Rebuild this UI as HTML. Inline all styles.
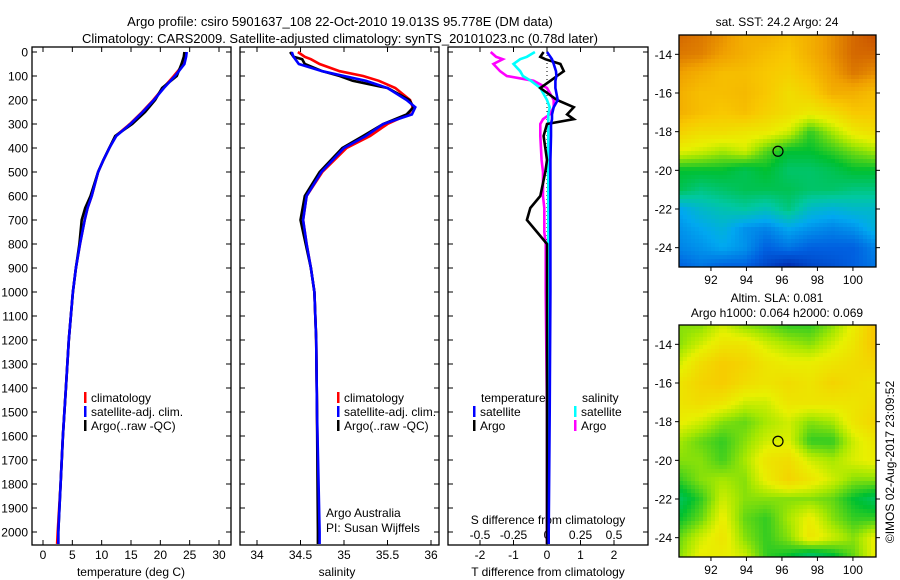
<!DOCTYPE html>
<html><head><meta charset="utf-8"><style>
html,body{margin:0;padding:0;background:#fff}
svg{display:block;font-family:"Liberation Sans",sans-serif}
text{fill:#000}
</style></head><body>
<svg id="fig" width="900" height="580" viewBox="0 0 900 580">
<text x="340" y="26" font-size="13" text-anchor="middle">Argo profile: csiro 5901637_108 22-Oct-2010 19.013S 95.778E (DM data)</text>
<text x="340" y="43" font-size="13" text-anchor="middle">Climatology: CARS2009. Satellite-adjusted climatology: synTS_20101023.nc (0.78d later)</text>
<g id="g"></g>
</svg>
<script>
// ---- data ----
const depthT = [0,20,50,100,150,200,250,300,350,400,450,500,600,650,700,800,900,1000,1200,1400,1600,1800,2000,2050];
const tempClim = [24.3,24.3,24.0,22.3,20.5,18.8,16.9,14.8,12.4,11.3,10.3,9.4,8.3,7.6,7.1,6.3,5.6,5.1,4.4,3.9,3.4,3.0,2.5,2.4];
const tempSat  = [24.5,24.4,24.1,22.5,20.6,18.9,17.0,14.9,12.5,11.3,10.3,9.4,8.3,7.6,7.1,6.3,5.6,5.1,4.4,3.9,3.4,3.0,2.6,2.6];
const tempArgo = [24.1,24.0,23.6,22.8,20.3,19.1,17.4,15.2,12.3,11.3,10.3,9.4,8.1,7.2,6.6,6.2,5.6,5.1,4.4,3.9,3.4,3.0,2.6,2.6];
const depthS = [0,20,30,50,80,100,120,150,200,230,260,300,350,400,500,600,700,800,900,1000,1200,1500,2000,2050];
const salClim = [34.47,34.55,34.62,34.72,34.95,35.22,35.4,35.59,35.76,35.79,35.74,35.5,35.3,35.03,34.75,34.57,34.53,34.57,34.62,34.66,34.68,34.69,34.71,34.71];
const salSat  = [34.4,34.42,34.44,34.48,34.75,35.0,35.25,35.5,35.72,35.82,35.78,35.45,35.25,35.0,34.74,34.57,34.53,34.57,34.62,34.66,34.68,34.69,34.72,34.72];
const salArgo = [34.38,34.42,34.52,34.55,34.75,34.95,35.1,35.5,35.75,35.8,35.72,35.45,35.22,34.98,34.72,34.55,34.5,34.56,34.62,34.66,34.68,34.69,34.7,34.7];
const depthD = [0,20,30,50,80,100,120,150,200,230,260,280,300,350,450,500,600,650,700,750,800,1000,1500,2000,2050];
const tdiffSat  = [0.0,0.1,0.15,0.2,0.27,0.28,0.25,0.25,0.32,0.2,0.15,0.15,0.12,0.12,0.1,0.1,0.1,0.1,0.1,0.1,0.1,0.1,0.08,0.05,0.05];
const tdiffArgo = [-0.1,-0.2,-0.05,0.4,0.5,0.3,0.1,-0.2,0.3,0.8,0.6,0.8,0.0,-0.1,0.0,-0.05,-0.2,-0.5,-0.6,-0.3,0.0,0.0,0.0,0.0,0.0];
const sdiffSat  = [-0.09,-0.15,-0.2,-0.25,-0.2,-0.18,-0.12,-0.05,0.0,0.02,0.01,0.01,0.01,0.01,0.01,0.01,0.01,0.01,0.01,0.01,0.01,0.01,0.01,0.01,0.01];
const sdiffArgo = [-0.42,-0.38,-0.33,-0.4,-0.35,-0.3,-0.1,0.0,0.05,0.05,0.02,-0.03,-0.05,-0.05,-0.04,-0.03,-0.03,-0.02,-0.02,-0.02,-0.01,-0.01,0.0,0.0,0.0];
const depthTicks = [0,100,200,300,400,500,600,700,800,900,1000,1100,1200,1300,1400,1500,1600,1700,1800,1900,2000];
const tempTicks = [0,5,10,15,20,25,30];
const salTicks = [34,34.5,35,35.5,36];
const tdTicks = [-2,-1,0,1,2];
const sdTicks = [-0.5,-0.25,0,0.25,0.5];
const lonTicks = [92,94,96,98,100];
const latTicks = [-14,-16,-18,-20,-22,-24];
const sstGrid = [
[0.85,0.83,0.8,0.75,0.75,0.72,0.75,0.8,0.85,0.88],
[0.83,0.82,0.78,0.75,0.72,0.7,0.75,0.8,0.85,0.85],
[0.78,0.75,0.72,0.72,0.7,0.68,0.72,0.78,0.83,0.8],
[0.75,0.72,0.72,0.73,0.7,0.65,0.68,0.75,0.75,0.72],
[0.75,0.72,0.7,0.72,0.68,0.65,0.62,0.65,0.7,0.7],
[0.68,0.65,0.65,0.63,0.62,0.58,0.48,0.55,0.62,0.65],
[0.6,0.58,0.55,0.58,0.5,0.45,0.45,0.48,0.52,0.55],
[0.45,0.45,0.45,0.42,0.45,0.4,0.4,0.42,0.45,0.45],
[0.42,0.38,0.4,0.42,0.42,0.42,0.4,0.4,0.38,0.38],
[0.25,0.3,0.33,0.35,0.32,0.38,0.3,0.28,0.3,0.3],
[0.22,0.25,0.28,0.22,0.2,0.25,0.22,0.2,0.22,0.28],
[0.2,0.22,0.25,0.22,0.15,0.18,0.15,0.15,0.15,0.2],
[0.15,0.18,0.15,0.15,0.1,0.05,0.1,0.12,0.15,0.18]];
const slaGrid = [
[0.5,0.5,0.55,0.5,0.48,0.45,0.45,0.5,0.58,0.68],
[0.5,0.55,0.6,0.6,0.55,0.52,0.5,0.55,0.6,0.68],
[0.55,0.62,0.66,0.64,0.6,0.58,0.58,0.6,0.62,0.64],
[0.6,0.64,0.66,0.62,0.6,0.62,0.6,0.64,0.62,0.6],
[0.6,0.62,0.6,0.55,0.55,0.6,0.6,0.6,0.6,0.62],
[0.58,0.55,0.5,0.48,0.52,0.55,0.5,0.52,0.6,0.64],
[0.52,0.48,0.45,0.5,0.55,0.56,0.45,0.45,0.55,0.6],
[0.5,0.5,0.46,0.52,0.6,0.62,0.55,0.52,0.56,0.58],
[0.45,0.5,0.52,0.5,0.58,0.64,0.6,0.55,0.5,0.5],
[0.38,0.45,0.55,0.5,0.5,0.5,0.5,0.48,0.42,0.38],
[0.42,0.48,0.58,0.48,0.45,0.52,0.58,0.5,0.45,0.45],
[0.48,0.55,0.6,0.5,0.45,0.5,0.6,0.55,0.5,0.58],
[0.5,0.58,0.58,0.55,0.45,0.42,0.35,0.4,0.48,0.58]];
const floatLon = 95.778, floatLat = -19.013;

// ---- helpers ----
const NS="http://www.w3.org/2000/svg";
const G=document.getElementById('g');
function mk(tag,at,parent){const e=document.createElementNS(NS,tag);for(const k in at)e.setAttribute(k,at[k]);(parent||G).appendChild(e);return e;}
function txt(x,y,s,anchor,size){const e=mk('text',{x:x,y:y,'font-size':size||12,'text-anchor':anchor||'middle'});e.textContent=s;return e;}
const Y0=52, YTOP=47, YBOT=545, dpx=(532-52)/2000;
const yD=d=>Y0+d*dpx;

function panel(name,x0,x1,sx,xticks){
  const b=mk('rect',{x:x0,y:YTOP,width:x1-x0,height:YBOT-YTOP,fill:'none',stroke:'#000','stroke-width':1.3});
  
  
  depthTicks.forEach(d=>{const y=yD(d);mk('line',{x1:x0,x2:x0+5,y1:y,y2:y,stroke:'#000'});mk('line',{x1:x1-5,x2:x1,y1:y,y2:y,stroke:'#000'});});
  xticks.forEach(v=>{const x=sx(v);mk('line',{x1:x,x2:x,y1:YBOT,y2:YBOT-5,stroke:'#000'});mk('line',{x1:x,x2:x,y1:YTOP,y2:YTOP+5,stroke:'#000'});});
}
function line(name,ys,xs,sx,color){
  const pts=ys.map((d,i)=>sx(xs[i]).toFixed(1)+','+yD(d).toFixed(1)).join(' ');
  const p=mk('polyline',{points:pts,fill:'none',stroke:color,'stroke-width':2.6,'stroke-linejoin':'miter'});
  
  
}
function legendEntry(name,x,y,color,label){
  const g=mk('g',{});
  
  
  if(color)mk('rect',{x:x,y:y-10,width:2.5,height:11,fill:color},g);
  const t=mk('text',{x:x+7,y:y,'font-size':12},g);t.textContent=label;
}

// ---- panel 1: temperature ----
const sxT=v=>43+v*(219-43)/30;
panel('temperature-panel',32,231,sxT,tempTicks);
depthTicks.forEach(d=>{txt(28,yD(d)+4.5,String(d),'end');});
tempTicks.forEach(v=>txt(sxT(v),559,String(v)));
txt(131,576,'temperature (deg C)');
line('temp-climatology',depthT,tempClim,sxT,'#ff0000');
line('temp-argo',depthT,tempArgo,sxT,'#000000');
line('temp-satellite',depthT,tempSat,sxT,'#0000ff');
legendEntry('legend-climatology',84,402,'#ff0000','climatology');
legendEntry('legend-satellite-adj',84,416,'#0000ff','satellite-adj. clim.');
legendEntry('legend-argo',84,430,'#000000','Argo(..raw -QC)');

// ---- panel 2: salinity ----
const sxS=v=>257+(v-34)*87;
panel('salinity-panel',240,439,sxS,salTicks);
salTicks.forEach(v=>txt(sxS(v),559,String(v)));
txt(337,576,'salinity');
line('sal-climatology',depthS,salClim,sxS,'#ff0000');
line('sal-argo',depthS,salArgo,sxS,'#000000');
line('sal-satellite',depthS,salSat,sxS,'#0000ff');
legendEntry('legend2-climatology',337,402,'#ff0000','climatology');
legendEntry('legend2-satellite-adj',337,416,'#0000ff','satellite-adj. clim.');
legendEntry('legend2-argo',337,430,'#000000','Argo(..raw -QC)');
txt(326,517,'Argo Australia','start');
txt(326,532,'PI: Susan Wijffels','start');

// ---- panel 3: differences ----
const sxTD=v=>547+v*33.5;
const sxSD=v=>547+v*134;
panel('difference-panel',448,648,sxTD,tdTicks);
mk('line',{x1:547,x2:547,y1:YTOP,y2:YBOT,stroke:'#000','stroke-dasharray':'1,3'});
tdTicks.forEach(v=>txt(sxTD(v),559,String(v)));
sdTicks.forEach(v=>txt(sxSD(v),539,String(v)));
txt(548,524,'S difference from climatology');
txt(548,576,'T difference from climatology');
line('sdiff-argo',depthD,sdiffArgo,sxSD,'#ff00ff');
line('sdiff-satellite',depthD,sdiffSat,sxSD,'#00ffff');
line('tdiff-argo',depthD,tdiffArgo,sxTD,'#000000');
line('tdiff-satellite',depthD,tdiffSat,sxTD,'#0000ff');
txt(481,402,'temperature','start');
txt(582,402,'salinity','start');
legendEntry('legend3-t-satellite',473,416,'#0000ff','satellite');
legendEntry('legend3-t-argo',473,430,'#000000','Argo');
legendEntry('legend3-s-satellite',574,416,'#00ffff','satellite');
legendEntry('legend3-s-argo',574,430,'#ff00ff','Argo');

// ---- maps ----
const stops=[[0,[0,16,150]],[0.15,[0,96,224]],[0.25,[0,168,240]],[0.35,[0,200,160]],[0.45,[0,192,48]],[0.55,[168,232,0]],[0.6,[232,240,0]],[0.7,[248,200,0]],[0.78,[240,160,0]],[0.88,[200,80,0]],[1,[150,40,0]]];
function cmap(v){for(let i=1;i<stops.length;i++){if(v<=stops[i][0]){const a=stops[i-1],b=stops[i],t=(v-a[0])/(b[0]-a[0]);return 'rgb('+a[1].map((c,k)=>Math.round(c+(b[1][k]-c)*t)).join(',')+')';}}return 'rgb(150,40,0)';}
const LON0=90.2,LON1=101.3,LAT0=-13,LAT1=-25;
function map(name,grid,x0,y0,x1,y1,shift){
  const W=x1-x0,H=y1-y0,sx=l=>x0+(l-LON0)/(LON1-LON0)*W,sy=l=>y0+(l-LAT0)/(LAT1-LAT0)*H;
  const g=mk('g',{});
  
  
  const R=grid.length,C=grid[0].length,cs=4;
  for(let py=0;py<H;py+=cs)for(let px=0;px<W;px+=cs){
    const gy=(py+cs/2)/H*(R-1),gx=(px+cs/2)/W*(C-1);
    const i=Math.min(Math.floor(gy),R-2),j=Math.min(Math.floor(gx),C-2),fy=gy-i,fx=gx-j;
    const v=grid[i][j]*(1-fx)*(1-fy)+grid[i][j+1]*fx*(1-fy)+grid[i+1][j]*(1-fx)*fy+grid[i+1][j+1]*fx*fy;
    mk('rect',{x:x0+px,y:y0+py,width:Math.min(cs,W-px)+0.3,height:Math.min(cs,H-py)+0.3,fill:cmap(v+shift)},g);
  }
  mk('rect',{x:x0,y:y0,width:W,height:H,fill:'none',stroke:'#000','stroke-width':1.3},g);
  lonTicks.forEach(l=>{const x=sx(l);mk('line',{x1:x,x2:x,y1:y0,y2:y0-4,stroke:'#000'},g);mk('line',{x1:x,x2:x,y1:y1,y2:y1+4,stroke:'#000'},g);txt(x,y1+17,String(l));});
  latTicks.forEach(l=>{const y=sy(l);mk('line',{x1:x0,x2:x0-4,y1:y,y2:y,stroke:'#000'},g);mk('line',{x1:x1,x2:x1+4,y1:y,y2:y,stroke:'#000'},g);txt(x0-7,y+4.5,String(l),'end');});
  const c=mk('circle',{cx:sx(floatLon),cy:sy(floatLat),r:5,fill:'none',stroke:'#000','stroke-width':1.2},g);
  
  
}
map('sst-map',sstGrid,679,35,876,267,0);
map('sla-map',slaGrid,679,325,876,557,0.03);
txt(777,26,'sat. SST: 24.2 Argo: 24');
txt(777,302,'Altim. SLA: 0.081');
txt(777,317,'Argo h1000: 0.064 h2000: 0.069');
const cr=txt(0,0,'©IMOS 02-Aug-2017 23:09:52');
cr.setAttribute('transform','translate(894,462) rotate(-90)');


</script>
</body></html>
